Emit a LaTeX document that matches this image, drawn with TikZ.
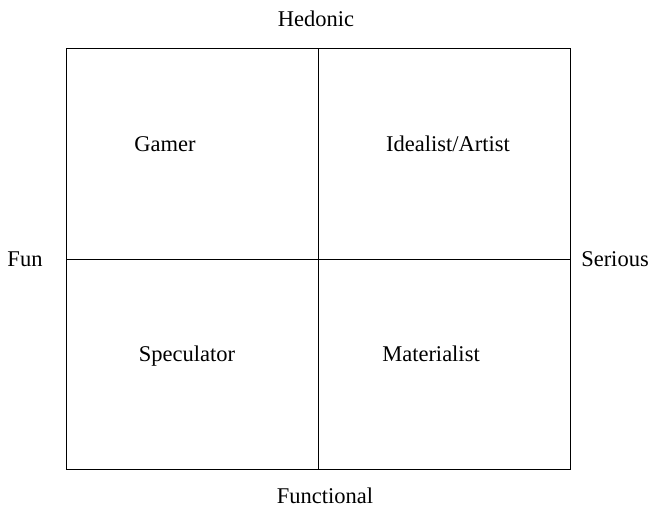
\documentclass[tikz,border=0pt]{standalone}
\usepackage{fontspec}
\setmainfont{Liberation Serif}
\begin{document}
\begin{tikzpicture}[x=1pt,y=-1pt,
  lbl/.style={font=\fontsize{22.5}{26}\selectfont, inner sep=0pt, text height=0.68em, text depth=0.22em},
  frame/.style={draw=black, line width=1pt}]
\useasboundingbox (0,0) rectangle (648,507);
\node[frame, minimum width=504pt, minimum height=421pt, inner sep=0pt, anchor=north west] (box) at (66,48) {};
\coordinate (vt) at (318,48);
\coordinate (vb) at (318,469);
\coordinate (hl) at (66,259);
\coordinate (hr) at (570,259);
\draw[frame] (vt) -- (vb);
\draw[frame] (hl) -- (hr);
\node[lbl] (hed) at (316,24) {Hedonic};
\node[lbl, text depth=0pt, anchor=base] (fnc) at (325,503) {Functional};
\node[lbl] (fun) at (25,264) {Fun};
\node[lbl] (ser) at (615,264) {Serious};
\node[lbl] (gam) at (165,149) {Gamer};
\node[lbl] (ide) at (448,149) {Idealist/Artist};
\node[lbl] (spe) at (187,359) {Speculator};
\node[lbl] (mat) at (431,359) {Materialist};
\end{tikzpicture}
\end{document}
